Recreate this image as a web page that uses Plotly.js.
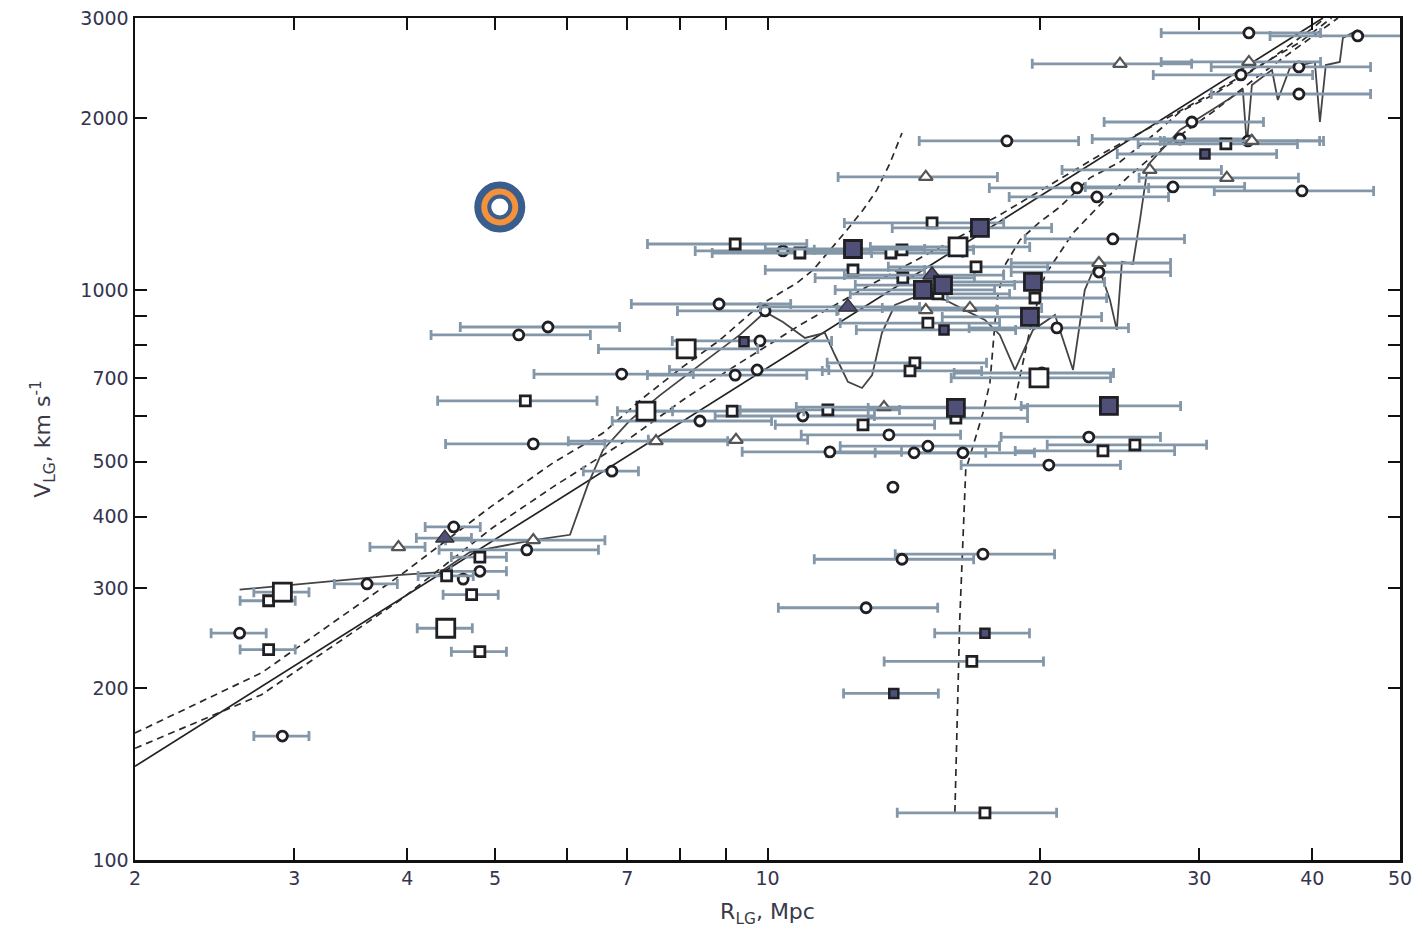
<!DOCTYPE html>
<html><head><meta charset="utf-8">
<script src="https://cdn.plot.ly/plotly-3.0.1.min.js"></script>
<style>body{margin:0;background:#fff}#chart{width:1422px;height:935px}</style>
</head><body><div id="chart"></div>
<script>
// ---------- data (R_LG in Mpc, V_LG in km/s, relative distance errors) ----------
const circX = [2.61,2.91,3.61,4.50,4.61,4.81,5.42,5.31,5.72,5.51,6.90,6.73,8.84,9.94,9.81,8.42,10.94,9.74,9.21,10.40,13.62,11.72,14.52,15.04,16.44,13.76,14.08,17.30,12.85,24.08,23.24,20.88,20.10,22.65,20.46,34.04,44.9,38.66,38.66,33.36,29.44,18.39,28.56,33.96,28.06,21.98,23.12,38.96];
const circY = [250,165,305,384,311,321,350,834,861,537,712,481,945,919,814,589,601,724,709,1171,557,520,518,532,518,451,337,344,277,1229,1075,858,715,552,493,2824,2790,2462,2207,2384,1971,1826,1840,1826,1516,1510,1456,1492];
const circErr = [0.07,0.07,0.08,0.07,0,0.07,0.2,0.2,0.2,0.2,0.2,0.07,0.2,0.2,0.2,0.2,0.2,0.2,0.2,0.2,0.2,0.2,0.2,0.2,0.2,0,0.2,0.2,0.2,0.2,0.2,0.2,0.2,0.2,0.2,0.2,0.2,0.2,0.2,0.2,0.2,0.2,0.2,0.2,0.2,0.2,0.2,0.2];

const sqX = [2.81,2.81,4.42,4.81,4.71,4.81,5.40,9.21,10.86,13.69,15.20,17.0,12.43,15.43,15.04,14.55,14.37,16.15,12.75,11.66,9.14,19.75,25.47,23.48,32.1,16.82,17.39,14.08,14.11];
const sqY = [285,234,315,340,292,232,639,1204,1161,1161,1311,1098,1084,984,875,745,721,596,580,616,613,968,535,522,1804,223,121,1176,1050];
const sqErr = [0.07,0.07,0.07,0.07,0.07,0.07,0.2,0.2,0.2,0.2,0.2,0.2,0.2,0.2,0.2,0.2,0.2,0.2,0.2,0.2,0.2,0.2,0.2,0.2,0.2,0.2,0.2,0.2,0.2];

const bigSqX = [2.91,4.41,8.13,7.34,16.24,19.95];
const bigSqY = [295,255,788,613,1190,701];
const bigSqErr = [0.07,0.07,0.2,0.07,0.2,0.2];

const fillSqX = [12.43,17.17,15.63,14.85,19.65,19.50,16.15,23.84];
const fillSqY = [1180,1285,1020,1000,1033,897,621,626];
const fillSqErr = [0.2,0.2,0.2,0.2,0.2,0.2,0.2,0.2];

const smallFillX = [9.42,15.67,30.44,17.39,13.79];
const smallFillY = [811,851,1732,250,196];
const smallFillErr = [0,0.2,0.2,0.12,0.12];

const triX = [3.91,5.51,7.53,9.23,13.45,14.96,16.74,14.96,23.24,24.52,34.04,34.3,26.45,32.18];
const triY = [354,364,543,546,623,922,930,1579,1115,2493,2512,1826,1624,1573];
const triErr = [0.07,0.2,0.2,0.2,0.2,0.2,0.2,0.2,0.2,0.2,0.2,0.2,0.2,0.2];

const fillTriX = [4.40,15.20,12.27];
const fillTriY = [367,1062,934];
const fillTriErr = [0.07,0.2,0.2];

const ringX = [5.06];
const ringY = [1398];

// model curves
const hubbleX = [2, 41.1];
const hubbleY = [146, 3000];

const s1X = [2.00,2.76,3.93,4.94,5.79,6.58,7.28,8.06,8.86,9.81,10.78,11.23,12.24,12.75,13.21,13.66,14.08];
const s1Y = [167,213,316,416,497,561,646,733,817,941,1029,1084,1274,1381,1498,1670,1885];

const d2X = [2.00,2.76,3.93,4.96,5.79,7.05,8.15,9.25,10.86,12.98,18.06,23.3,30.04,35.0,38.8,42.0];
const d2Y = [157,195,286,382,451,550,649,739,868,1020,1354,1725,2154,2481,2723,3000];

const v1X = [16.11,16.31,16.56,17.30,17.61,17.93,18.30,19.01,20.0,21.04,22.72,24.52,26.94,28.56,31.06,33.27,35.64,40.06,41.3];
const v1Y = [121.4,264,483,608,687,961,1106,1224,1316,1398,1573,1677,1893,2053,2198,2354,2512,2882,3000];

const v2X = [18.77,19.5,20.26,20.88,21.76,23.12,24.96,27.14,31.06,35.0,38.8,42.7];
const v2Y = [641,851,1062,1143,1259,1392,1573,1761,2053,2384,2690,3000];

const wigX = [2.61,3.04,3.90,4.35,4.69,5.51,6.05,6.33,6.58,7.05,7.61,8.42,9.32,9.94,10.40,11.0,11.57,11.87,12.27,12.72,13.05,13.38,13.83,14.74,15.70,16.53,17.39,18.06,18.77,19.65,20.78,21.76,22.42,23.12,23.90,24.32,24.64,25.34,25.80,26.33,28.56,31.22,33.52,33.86,34.30,36.10,36.64,37.78,40.26,40.78,41.40,42.90,43.24,44.92];
const wigY = [298,305,316,320,347,364,372,455,524,591,654,739,834,915,879,824,841,769,690,673,709,841,941,980,961,922,886,834,724,851,904,724,1000,1120,961,851,1120,1111,1327,1657,1909,2086,2243,1797,2289,2432,2154,2452,2512,1971,2481,2512,2768,2858];

const xTickVals = [2,3,4,5,7,10,20,30,40,50];
const xTickText = ['2','3','4','5','7','10','20','30','40','50'];
const xMinorVals = [6,8,9];
const yTickVals = [100,200,300,400,500,700,1000,2000,3000];
const yTickText = ['100','200','300','400','500','700','1000','2000','3000'];
const yMinorVals = [600,800,900];

// ---------- styling ----------
const ERRC = '#8497a8';
const EDGE = '#1f1f24';
const NAVY = '#4f4f78';
function errs(xs, fr){ return xs.map((x,i)=> fr[i] ? x*fr[i] : NaN); }
function errObj(xs, fr){ return {type:'data', array: errs(xs,fr), symmetric:true, color:ERRC, thickness:2.8, width:5}; }
const dashLine = {color:'#2a2a2a', width:1.7, dash:'7px,5px'};

const traces = [
  {x:hubbleX, y:hubbleY, mode:'lines', line:{color:'#222', width:1.7}},
  {x:s1X, y:s1Y, mode:'lines', line:dashLine},
  {x:d2X, y:d2Y, mode:'lines', line:dashLine},
  {x:v1X, y:v1Y, mode:'lines', line:dashLine},
  {x:v2X, y:v2Y, mode:'lines', line:dashLine},
  {x:wigX, y:wigY, mode:'lines', line:{color:'#444', width:1.8}},
  {x:circX, y:circY, mode:'markers', error_x:errObj(circX,circErr),
   marker:{symbol:'circle', size:10, color:'#fff', line:{color:EDGE, width:2.8}}},
  {x:sqX, y:sqY, mode:'markers', error_x:errObj(sqX,sqErr),
   marker:{symbol:'square', size:10, color:'#fff', line:{color:EDGE, width:2.8}}},
  {x:bigSqX, y:bigSqY, mode:'markers', error_x:errObj(bigSqX,bigSqErr),
   marker:{symbol:'square', size:18, color:'#fff', line:{color:EDGE, width:2.8}}},
  {x:triX, y:triY, mode:'markers', error_x:errObj(triX,triErr),
   marker:{symbol:'triangle-up', size:12, color:'#fff', line:{color:'#555', width:2.2}}},
  {x:fillTriX, y:fillTriY, mode:'markers', error_x:errObj(fillTriX,fillTriErr),
   marker:{symbol:'triangle-up', size:16, color:NAVY, line:{color:'#333', width:1.5}}},
  {x:fillSqX, y:fillSqY, mode:'markers', error_x:errObj(fillSqX,fillSqErr),
   marker:{symbol:'square', size:17, color:NAVY, line:{color:EDGE, width:2.8}}},
  {x:smallFillX, y:smallFillY, mode:'markers', error_x:errObj(smallFillX,smallFillErr),
   marker:{symbol:'square', size:9, color:NAVY, line:{color:EDGE, width:2.5}}},
  {x:ringX, y:ringY, mode:'markers',
   marker:{symbol:'circle', size:44, color:'#f4913b', line:{color:'#395d8c', width:7}}},
  {x:ringX, y:ringY, mode:'markers',
   marker:{symbol:'circle', size:21, color:'#ffffff', line:{color:'#395d8c', width:4}}},
  // empty trace that carries the overlay axes for the unlabeled ticks
  {x:[], y:[], xaxis:'x2', yaxis:'y2', mode:'markers', hoverinfo:'skip'}
];

const tickFont = {family:'DejaVu Sans, Liberation Sans, Arial', size:19, color:'#34344e'};
const axisCommon = {
  type:'log', showgrid:false, zeroline:false, showline:true, linecolor:'#111', linewidth:2.5,
  ticks:'inside', ticklen:12, tickwidth:2, tickcolor:'#111', mirror:'ticks',
  tickmode:'array', tickfont:tickFont
};
const xRange = [Math.log10(2), Math.log10(50)];
const yRange = [2, Math.log10(3000)];

const layout = {
  width:1422, height:935,
  margin:{l:135, r:22, t:18, b:75},
  paper_bgcolor:'#fff', plot_bgcolor:'#fff',
  showlegend:false,
  xaxis: Object.assign({}, axisCommon, {
    range:xRange, tickvals:xTickVals, ticktext:xTickText,
    title:{text:'R<sub>LG</sub>, Mpc', font:{family:'DejaVu Sans, Liberation Sans, Arial', size:22, color:'#3a3a4a'}, standoff:16}
  }),
  yaxis: Object.assign({}, axisCommon, {
    range:yRange, tickvals:yTickVals, ticktext:yTickText,
    title:{text:'V<sub>LG</sub>, km s<sup>-1</sup>', font:{family:'DejaVu Sans, Liberation Sans, Arial', size:22, color:'#3a3a4a'}, standoff:24}
  }),
  xaxis2: {type:'log', overlaying:'x', anchor:'y2', side:'bottom', range:xRange,
    tickmode:'array', tickvals:xMinorVals, showticklabels:false,
    ticks:'inside', ticklen:12, tickwidth:2, tickcolor:'#111', mirror:'ticks',
    showline:false, showgrid:false, zeroline:false},
  yaxis2: {type:'log', overlaying:'y', anchor:'x2', side:'left', range:yRange,
    tickmode:'array', tickvals:yMinorVals, showticklabels:false,
    ticks:'inside', ticklen:12, tickwidth:2, tickcolor:'#111', mirror:'ticks',
    showline:false, showgrid:false, zeroline:false}
};

Plotly.newPlot('chart', traces, layout, {displayModeBar:false, staticPlot:true});
</script></body></html>
